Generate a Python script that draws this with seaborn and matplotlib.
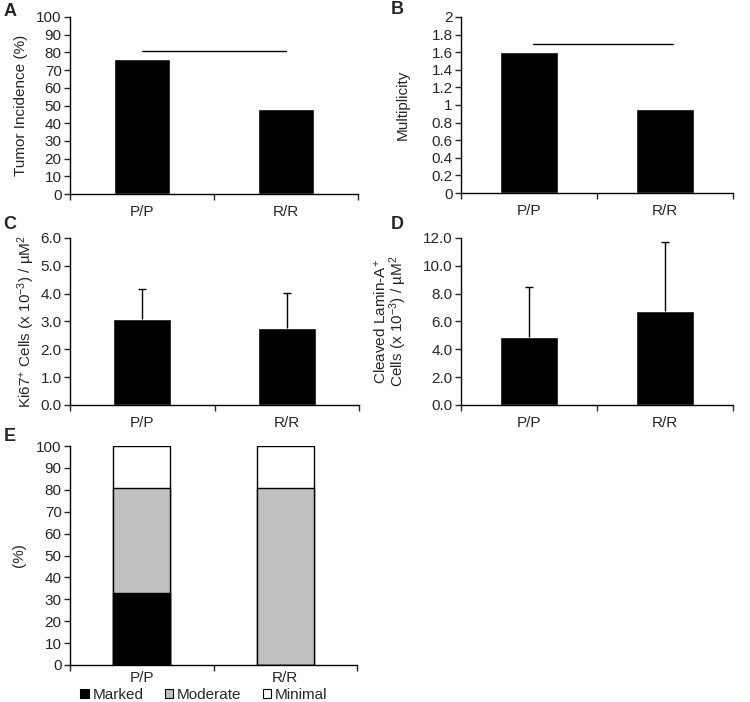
import numpy as np
import pandas as pd
import matplotlib
matplotlib.use('Agg')
import matplotlib.pyplot as plt
from matplotlib.patches import Patch
from matplotlib.ticker import FixedLocator, MultipleLocator, FormatStrFormatter
import seaborn as sns

# === Dados
groups = ['P/P', 'R/R']
incidence = [76, 48]
multiplicity = [1.6, 0.95]
ki67 = [3.08, 2.75]
ki67_sd = [1.07, 1.27]
lamin = [4.9, 6.75]
lamin_sd = [3.55, 4.95]
marked = [33, 0]
moderate = [48, 81]
minimal = [19, 19]
severity = ['Marked', 'Moderate', 'Minimal']
sev_colors = ['black', '#c0c0c0', 'white']

sns.set_style('white')
plt.rcParams['font.family'] = ['Liberation Sans', 'DejaVu Sans']
plt.rcParams['mathtext.fontset'] = 'custom'
plt.rcParams['mathtext.rm'] = 'Liberation Sans'
plt.rcParams['mathtext.it'] = 'Liberation Sans:italic'
plt.rcParams['mathtext.bf'] = 'Liberation Sans:bold'

fig = plt.figure(figsize=(7.5, 7.02), dpi=100)
W, H = 750, 702


def add_ax(l, r, top, bot):
    return fig.add_axes([l / W, 1 - bot / H, (r - l) / W, (bot - top) / H])


axA = add_ax(70, 358, 17, 194)
axB = add_ax(461, 733, 17, 193)
axC = add_ax(70, 359, 238, 405)
axD = add_ax(461, 733, 238, 405)
axE = add_ax(70, 357, 446, 665)


def style(ax, ymax, step, fmt, ylabel, lx, ls=1.2, xpad=8):
    ax.set_xlim(-0.5, 1.5)
    ax.set_ylim(0, ymax)
    ax.yaxis.set_major_locator(MultipleLocator(step))
    if fmt:
        ax.yaxis.set_major_formatter(FormatStrFormatter(fmt))
    ax.xaxis.set_minor_locator(FixedLocator([-0.5, 0.5, 1.5]))
    ax.tick_params(axis='x', which='major', length=0, labelsize=11, pad=xpad)
    ax.tick_params(axis='x', which='minor', length=4, width=1, direction='out', bottom=True)
    ax.tick_params(axis='y', length=4, width=1, direction='out', left=True, labelsize=11, pad=2)
    sns.despine(ax=ax)
    for s in ['left', 'bottom']:
        ax.spines[s].set_color('black')
        ax.spines[s].set_linewidth(1)
    ax.set_xlabel('')
    ax.set_ylabel(ylabel, fontsize=11, linespacing=ls)
    ax.yaxis.set_label_coords(lx, 0.5)


def up_err(ax, vals, sd):
    _, caps, _ = ax.errorbar([0, 1], vals, yerr=[[0, 0], sd], fmt='none', ecolor='black',
                             elinewidth=1, capsize=3, capthick=1)
    caps[0].set_visible(False)


# A
sns.barplot(x=groups, y=incidence, color='black', width=0.39, saturation=1, ax=axA)
axA.plot([0, 1], [81, 81], color='black', lw=1)
style(axA, 100, 10, None, 'Tumor Incidence (%)', -0.145)

# B
sns.barplot(x=groups, y=multiplicity, color='black', width=0.42, saturation=1, ax=axB)
axB.plot([0.03, 1.06], [1.69, 1.69], color='black', lw=1)
style(axB, 2, 0.2, None, 'Multiplicity', -0.188)
axB.set_yticks(np.arange(0, 2.01, 0.2))
axB.set_yticklabels(['0', '0.2', '0.4', '0.6', '0.8', '1', '1.2', '1.4', '1.6', '1.8', '2'])

# C
sns.barplot(x=groups, y=ki67, color='black', width=0.4, saturation=1, ax=axC)
up_err(axC, ki67, ki67_sd)
style(axC, 6, 1, '%.1f', r'Ki67$^{+}$ Cells (x 10$^{-3}$) / µM$^{2}$', -0.115)

# D
sns.barplot(x=groups, y=lamin, color='black', width=0.43, saturation=1, ax=axD)
up_err(axD, lamin, lamin_sd)
style(axD, 12, 2, '%.1f', 'Cleaved Lamin-A$^{+}$\nCells (x 10$^{-3}$) / µM$^{2}$', -0.19, ls=0.95)

# E - stacked (overlay cumulative totals)
stack = np.cumsum(np.array([marked, moderate, minimal]), axis=0)
for i in range(2, -1, -1):
    sns.barplot(x=groups, y=stack[i], color=sev_colors[i], width=0.4, saturation=1,
                edgecolor='black', linewidth=1, ax=axE)
style(axE, 100, 10, None, '(%)', -0.155, xpad=4)

handles = [Patch(facecolor=c, edgecolor='black', linewidth=0.8) for c in sev_colors]
fig.legend(handles, severity, loc='center', bbox_to_anchor=(204 / W, 1 - 695 / H), ncol=3,
           frameon=False, fontsize=11, handlelength=0.55, handleheight=0.55,
           handletextpad=0.25, columnspacing=1.4, borderpad=0)

# letras dos paineis
for lab, x, y in [('A', 10, 11), ('B', 397, 9), ('C', 10, 224), ('D', 397, 224), ('E', 10, 436)]:
    fig.text(x / W, 1 - y / H, lab, fontsize=13, fontweight='bold', ha='center', va='center')

fig.savefig('out.png', dpi=100)
